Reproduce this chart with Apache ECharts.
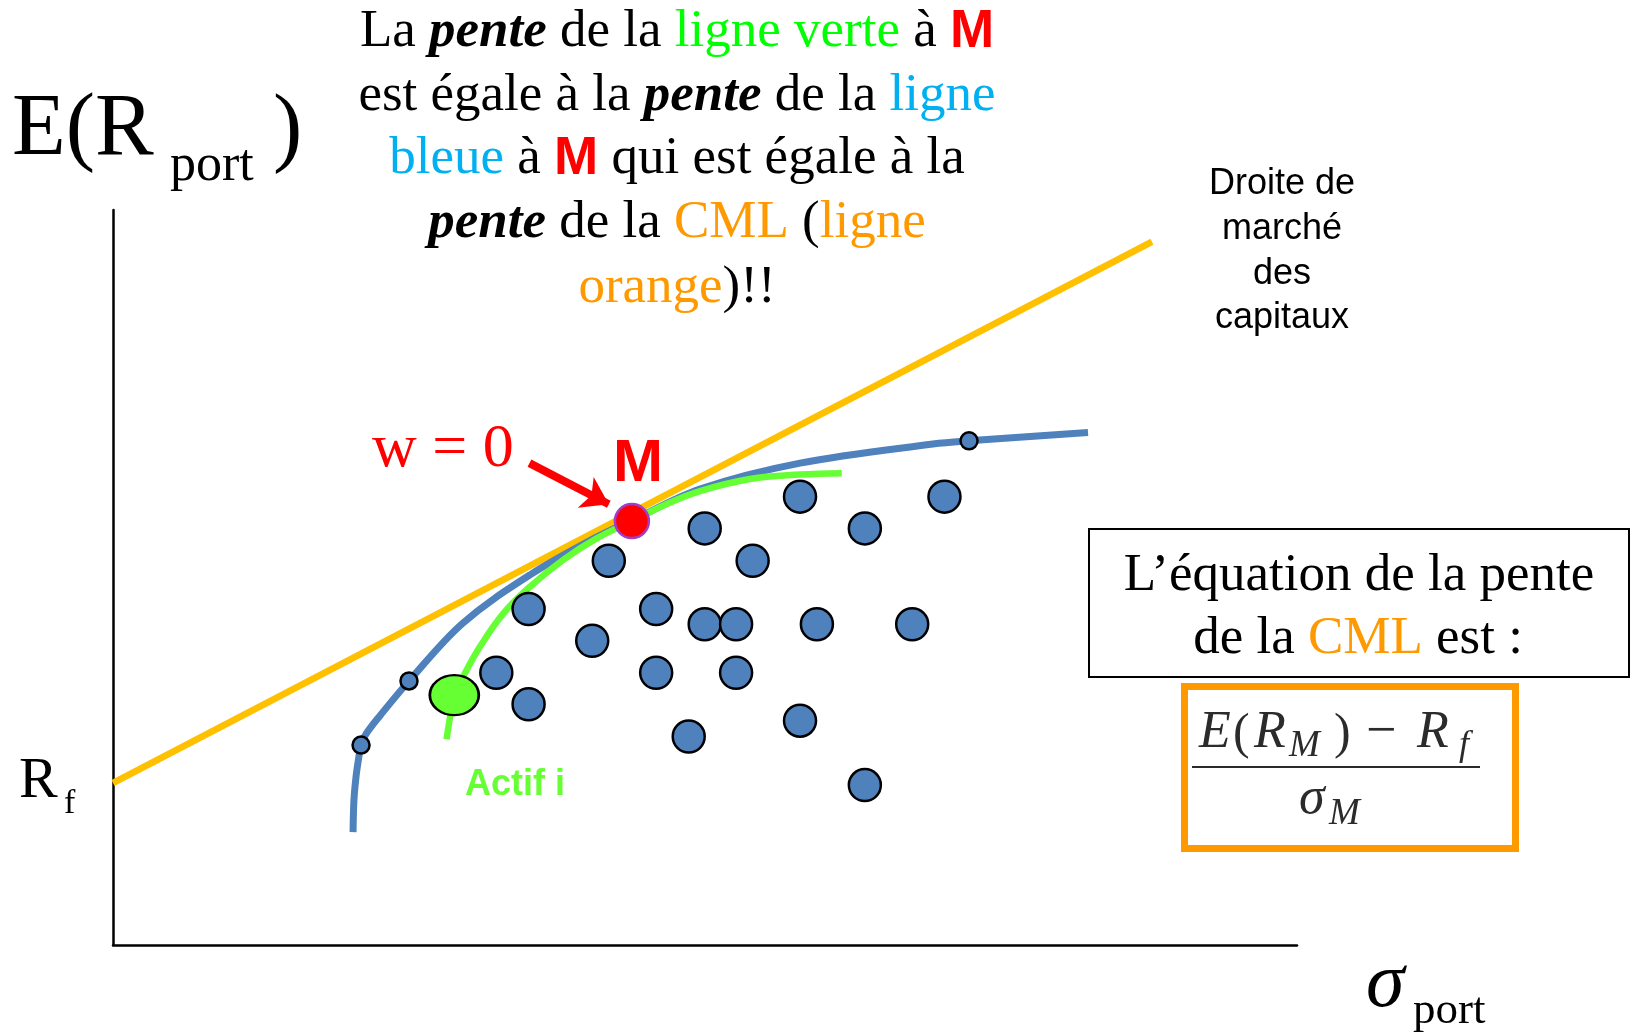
<!DOCTYPE html>
<html>
<head>
<meta charset="utf-8">
<script src="https://cdn.jsdelivr.net/npm/echarts@6/dist/echarts.min.js"></script>
<style>
  html, body { margin: 0; padding: 0; background: #fff; }
  #main { width: 1633px; height: 1032px; }
</style>
</head>
<body>
<div id="main"></div>
<script>
// chart units: sigma on x (0..40), E(R) on y (0..25)
var cml = [[0, 5.51], [35.1, 23.92]];

var frontier = [
  [8.11, 3.84], [8.14, 4.93], [8.21, 5.72], [8.29, 6.29], [8.38, 6.80],
  [8.55, 7.18], [9.02, 7.80], [10.0, 8.98], [11.82, 10.95], [14.09, 12.59],
  [16.35, 13.88], [17.53, 14.44], [19.83, 15.51], [23.21, 16.39], [27.70, 17.04],
  [28.92, 17.15], [32.94, 17.43]
];

var assetCurve = [
  [11.27, 7.00], [11.39, 7.77], [11.53, 8.50], [11.83, 9.13], [12.40, 10.15],
  [13.19, 11.28], [14.09, 12.19], [15.21, 13.10], [16.34, 13.83], [17.53, 14.42],
  [18.71, 15.00], [19.83, 15.44], [21.52, 15.85], [23.21, 16.00], [24.62, 16.05]
];

var assets = [
  [23.21, 15.25], [28.09, 15.25], [19.99, 14.17], [25.40, 14.17],
  [16.75, 13.07], [21.61, 13.07], [14.04, 11.43], [18.35, 11.43],
  [16.19, 10.35], [19.99, 10.91], [21.05, 10.91], [23.78, 10.91],
  [27.00, 10.91], [12.95, 9.26], [18.35, 9.26], [21.05, 9.26],
  [14.04, 8.19], [19.45, 7.09], [23.21, 7.63], [25.40, 5.44]
];

var frontierPorts = [[8.38, 6.80], [10.0, 8.98], [28.92, 17.15]];
var assetI = [11.53, 8.50];
var marketM = [17.53, 14.42];
var arrowW0 = [[14.07, 16.39], [16.75, 14.99]];

var titleLines = [
  '{n|La }{p|pente}{n| de la }{g|ligne verte}{n| à }{m|M}',
  '{n|est égale à la }{p|pente}{n| de la }{b|ligne}',
  '{b|bleue}{n| à }{m|M}{n| qui est égale à la}',
  '{p|pente}{n| de la }{o|CML}{n| (}{o|ligne}',
  '{o|orange}{n|)!!}'
];
var titleBaselines = [46, 110, 173, 237, 302];

var SERIF = 'Liberation Serif';
var SANS = 'Liberation Sans';

// text placed by its left edge (or centre) and its baseline
function txt(str, x, baseline, size, opts) {
  opts = opts || {};
  return {
    type: 'text',
    x: x,
    y: baseline - 0.34 * size + 4.5,
    z: 100,
    style: {
      text: str,
      fontFamily: opts.family || SERIF,
      fontSize: size,
      fontStyle: opts.italic ? 'italic' : 'normal',
      fontWeight: opts.bold ? 'bold' : 'normal',
      fill: opts.color || '#000',
      align: opts.align || 'left',
      textAlign: opts.align || 'left',
      verticalAlign: 'middle',
      textVerticalAlign: 'middle',
      rich: opts.rich
    }
  };
}

var fs = 53;
var richTitle = {
  n: { fontFamily: SERIF, fontSize: fs, fill: '#000' },
  p: { fontFamily: SERIF, fontSize: fs, fill: '#000', fontStyle: 'italic', fontWeight: 'bold' },
  g: { fontFamily: SERIF, fontSize: fs, fill: '#00FF00' },
  b: { fontFamily: SERIF, fontSize: fs, fill: '#00B0F0' },
  o: { fontFamily: SERIF, fontSize: fs, fill: '#FF9900' },
  m: { fontFamily: SANS, fontSize: fs, fill: '#FF0000', fontWeight: 'bold' }
};

var graphics = [];
titleLines.forEach(function (line, i) {
  graphics.push(txt(line, 677, titleBaselines[i], fs, { align: 'center', rich: richTitle }));
});

// y axis name E(R port)
graphics.push(txt('E(R', 12, 156, 88));
graphics.push(txt('port', 170, 180, 52));
graphics.push(txt(')', 273, 157, 88));
// Rf
graphics.push(txt('R', 19, 797, 58));
graphics.push(txt('f', 64, 811, 34));
// x axis name sigma port
graphics.push(txt('σ', 1366, 1008, 78, { italic: true }));
graphics.push(txt('port', 1413, 1022, 45));

// CML caption
graphics.push({
  type: 'text', x: 1282, y: 162, z: 100,
  style: {
    text: 'Droite de\nmarché\ndes\ncapitaux',
    fontFamily: SANS, fontSize: 36, lineHeight: 44.7, fill: '#000',
    align: 'center', textAlign: 'center', verticalAlign: 'top', textVerticalAlign: 'top'
  }
});

graphics.push(txt('w = 0', 372, 466, 62, { color: '#FF0000' }));
graphics.push(txt('M', 613, 480, 60, { family: SANS, bold: true, color: '#FF0000' }));
graphics.push(txt('Actif i', 465, 793, 36, { family: SANS, bold: true, color: '#66FF33' }));

// slope box
graphics.push({
  type: 'rect', z: 90,
  shape: { x: 1089, y: 529, width: 540, height: 148 },
  style: { fill: '#fff', stroke: '#000', lineWidth: 2 }
});
graphics.push(txt('L’équation de la pente', 1359, 590, 53, { align: 'center' }));
graphics.push(txt('{n|de la }{o|CML}{n| est :}', 1358, 653, 53, {
  align: 'center',
  rich: {
    n: { fontFamily: SERIF, fontSize: 53, fill: '#000' },
    o: { fontFamily: SERIF, fontSize: 53, fill: '#FF9900' }
  }
}));

// formula box
graphics.push({
  type: 'rect', z: 90,
  shape: { x: 1184.5, y: 686.5, width: 331, height: 162 },
  style: { fill: 'none', stroke: '#FF9900', lineWidth: 7 }
});
var fc = '#2b2b2b';
graphics.push(txt('E', 1199, 747, 52, { italic: true, color: fc }));
graphics.push(txt('(', 1233, 747, 50, { color: fc }));
graphics.push(txt('R', 1254, 747, 52, { italic: true, color: fc }));
graphics.push(txt('M', 1289, 754, 37, { italic: true, color: fc }));
graphics.push(txt(')', 1334, 747, 50, { color: fc }));
graphics.push(txt('−', 1366, 747, 54, { color: fc }));
graphics.push(txt('R', 1417, 747, 52, { italic: true, color: fc }));
graphics.push(txt('f', 1459, 753, 36, { italic: true, color: fc }));
graphics.push({
  type: 'line', z: 100,
  shape: { x1: 1192, y1: 767, x2: 1480, y2: 767 },
  style: { stroke: fc, lineWidth: 2 }
});
graphics.push(txt('σ', 1299, 813, 52, { italic: true, color: fc }));
graphics.push(txt('M', 1329, 822, 37, { italic: true, color: fc }));

var chart = echarts.init(document.getElementById('main'));

var option = {
  animation: false,
  backgroundColor: '#fff',
  grid: { left: 113, right: 336, top: 210, bottom: 87, containLabel: false },
  xAxis: {
    type: 'value', min: 0, max: 40,
    axisLine: { show: true, onZero: false, lineStyle: { color: '#000', width: 2.5 } },
    axisTick: { show: false }, axisLabel: { show: false }, splitLine: { show: false }
  },
  yAxis: {
    type: 'value', min: 0, max: 25,
    axisLine: { show: true, onZero: false, lineStyle: { color: '#000', width: 2.5 } },
    axisTick: { show: false }, axisLabel: { show: false }, splitLine: { show: false }
  },
  graphic: graphics,
  series: [
    {
      name: 'CML', type: 'line', data: cml, symbol: 'none', z: 2,
      lineStyle: { color: '#FFC000', width: 6.5, cap: 'butt' }
    },
    {
      name: 'frontier', type: 'line', data: frontier, smooth: 0.35, symbol: 'none', z: 3,
      lineStyle: { color: '#4F81BD', width: 7, cap: 'butt' }
    },
    {
      name: 'actif i', type: 'line', data: assetCurve, smooth: 0.4, symbol: 'none', z: 4,
      lineStyle: { color: '#66FF33', width: 6.5, cap: 'butt' }
    },
    {
      name: 'assets', type: 'scatter', data: assets, symbolSize: 32, z: 5,
      itemStyle: { color: '#4F81BD', borderColor: '#000', borderWidth: 2.5, opacity: 1 }
    },
    {
      name: 'frontier ports', type: 'scatter', data: frontierPorts, symbolSize: 17, z: 5,
      itemStyle: { color: '#4F81BD', borderColor: '#000', borderWidth: 2.5, opacity: 1 }
    },
    {
      name: 'asset i', type: 'scatter', data: [assetI], symbolSize: [49, 40], z: 6,
      itemStyle: { color: '#66FF33', borderColor: '#000', borderWidth: 2.5, opacity: 1 }
    },
    {
      name: 'M', type: 'scatter', data: [marketM], symbolSize: 34, z: 7,
      itemStyle: { color: '#FF0000', borderColor: '#A23DC8', borderWidth: 2.5, opacity: 1 }
    },
    {
      name: 'arrow', type: 'lines', coordinateSystem: 'cartesian2d', z: 8,
      symbol: ['none', 'arrow'], symbolSize: 26,
      lineStyle: { color: '#FF0000', width: 8, opacity: 1 },
      data: [{ coords: arrowW0 }]
    }
  ]
};

chart.setOption(option);
</script>
</body>
</html>
